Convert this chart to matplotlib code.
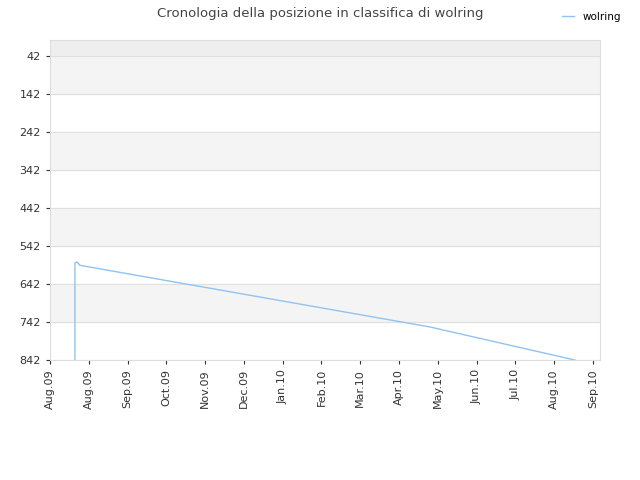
import matplotlib.pyplot as plt

# x in tick-slot units (one slot per label), y is rank
x_pos = [0.644, 0.644, 0.696, 0.773, 9.79, 13.53]
rank = [842, 587, 584, 593, 755, 842]
tick_labels = ["Aug.09", "Aug.09", "Sep.09", "Oct.09", "Nov.09", "Dec.09", "Jan.10",
               "Feb.10", "Mar.10", "Apr.10", "May.10", "Jun.10", "Jul.10", "Aug.10", "Sep.10"]
y_ticks = [42, 142, 242, 342, 442, 542, 642, 742, 842]

fig = plt.figure(figsize=(6.4, 4.8), dpi=100)
ax = fig.add_axes([0.078, 0.25, 0.8595, 0.667])

# alternating bands
ax.axhspan(0, 42, color="#eeeeee", zorder=0)
bands = [(42, 142), (242, 342), (442, 542), (642, 742)]
for lo, hi in bands:
    ax.axhspan(lo, hi, color="#f4f4f4", zorder=0)
for y in y_ticks:
    ax.axhline(y, color="#e0e0e0", lw=0.8, zorder=1)

ax.plot(x_pos, rank, color="#90c3f0", lw=1, label="wolring", zorder=3)

ax.set_xlim(0, 14.18)
ax.set_ylim(842, 0)
ax.set_yticks(y_ticks)
ax.set_yticklabels([str(v) for v in y_ticks])
ax.set_xticks(range(len(tick_labels)))
ax.set_xticklabels(tick_labels, rotation=90)
ax.tick_params(labelsize=8, colors="#333333", length=3)
for s in ax.spines.values():
    s.set_color("#dddddd")

fig.suptitle("Cronologia della posizione in classifica di wolring", y=0.985,
             fontsize=9.5, color="#444444")
fig.legend(loc="upper right", bbox_to_anchor=(0.985, 0.995), frameon=False, fontsize=7.5,
           handlelength=1.2)

fig.savefig("out.png")
